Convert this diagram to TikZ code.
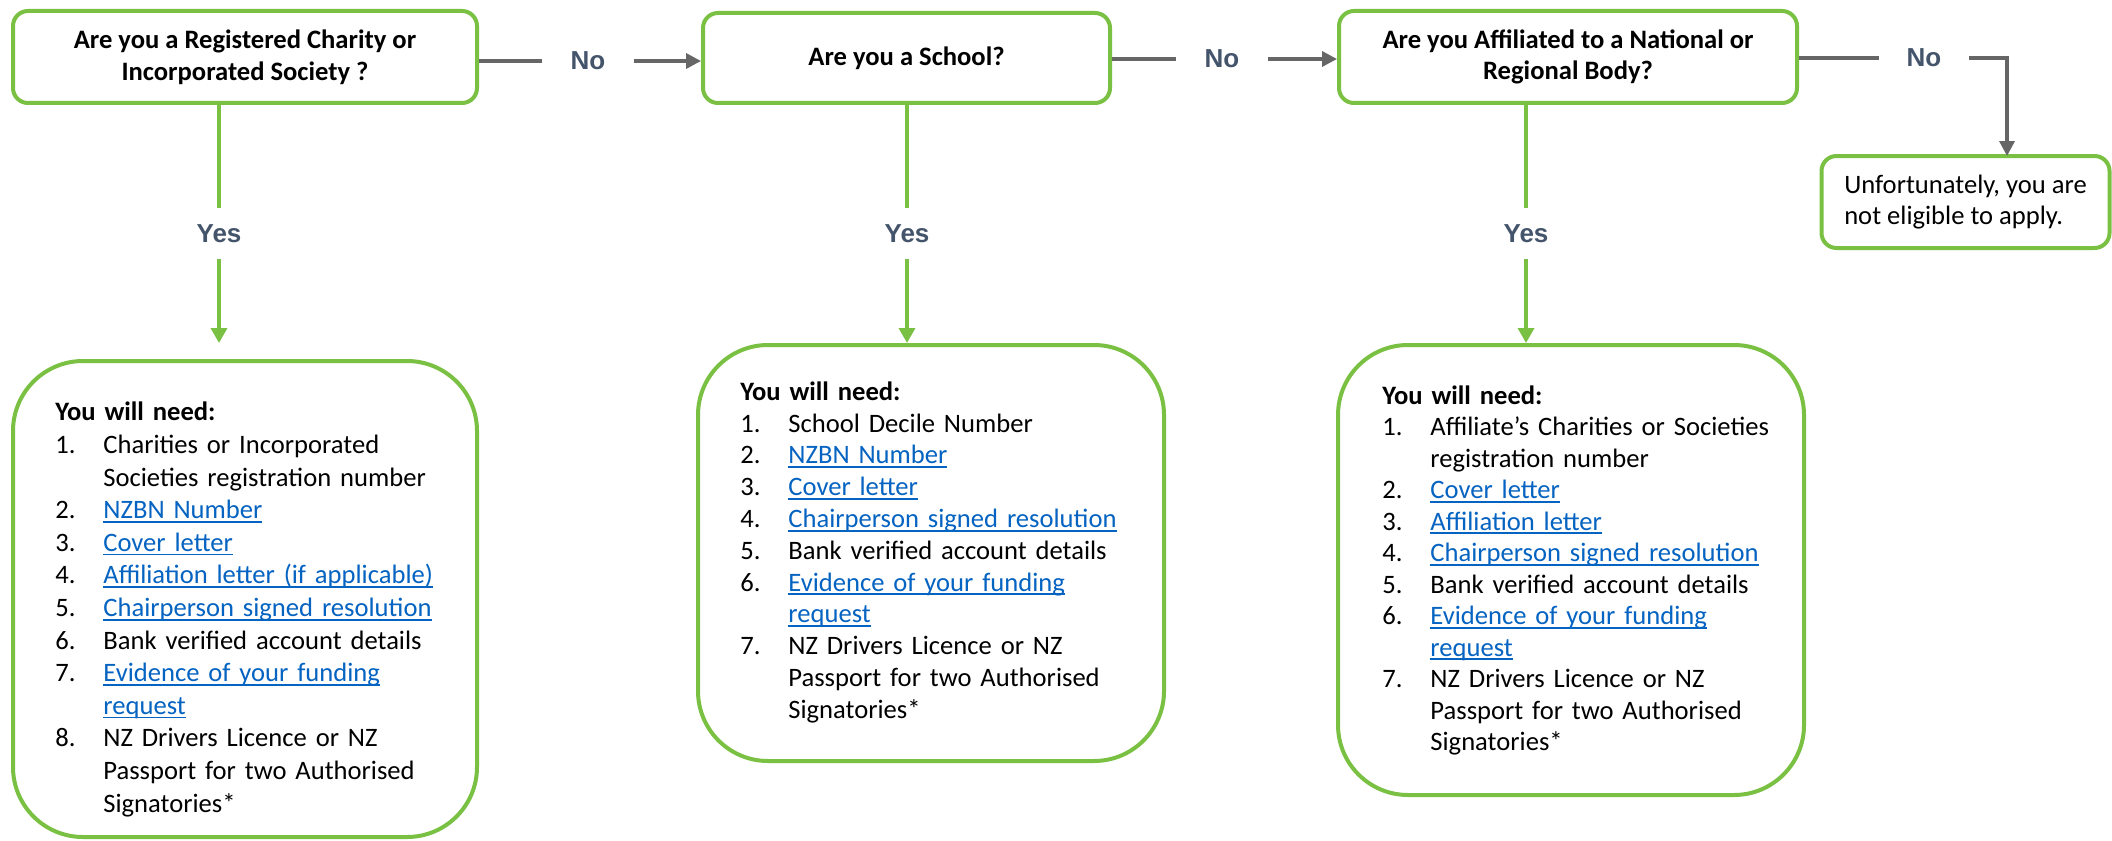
\documentclass[tikz,border=0pt]{standalone}
\usepackage{fontspec}
\setmainfont{Carlito}
\newfontfamily\labfont{Liberation Sans}
\usetikzlibrary{arrows.meta}
\definecolor{boxgreen}{HTML}{7AC143}
\definecolor{conngray}{HTML}{666666}
\definecolor{labelblue}{HTML}{44546A}
\definecolor{linkblue}{HTML}{0563C1}
\newsavebox\lnkbox
\newcommand\itm[2]{\makebox[24pt][l]{#1}#2}
\newcommand\cnt[1]{\hspace*{24pt}#1}
\newcommand\lnk[1]{{\color{linkblue}\sbox\lnkbox{#1}\rlap{\rule[-2pt]{\wd\lnkbox}{0.85pt}}\usebox\lnkbox}}
\begin{document}
\begin{tikzpicture}[x=0.5pt,y=-0.5pt,
  qbox/.style={draw=boxgreen,line width=2pt,rounded corners=7.5pt,fill=white,align=center,inner sep=0pt,font=\fontsize{13.3}{15.9}\selectfont\bfseries},
  listbox/.style={draw=boxgreen,line width=2pt,rounded corners=35pt,inner sep=0pt},
  listtext/.style={anchor=north west,inner sep=0pt,align=left,text width=210pt,font=\fontsize{13.3}{15.9}\selectfont},
  lbl/.style={font=\labfont\bfseries\fontsize{13}{15}\selectfont,text=labelblue,inner sep=0pt},
  nolbl/.style={lbl,minimum width=45.5pt,minimum height=20pt},
  yeslbl/.style={lbl,minimum height=25.5pt,minimum width=30pt},
  gline/.style={draw=conngray,line width=1.7pt},
  garrow/.style={gline,-{Triangle[length=7.5pt,width=7.5pt]}},
  yline/.style={draw=boxgreen,line width=1.7pt},
  yarrow/.style={yline,-{Triangle[length=7.5pt,width=8pt]}},
]
\fill[white] (0,0) rectangle (2112,840);
\useasboundingbox (0,0) rectangle (2112,840);

% question boxes
\node[qbox,minimum width=232pt,minimum height=46pt] (q1) at (245,57) {Are you a Registered Charity or\\Incorporated Society ?};
\node[qbox,minimum width=203.5pt,minimum height=45pt] (q2) at (906.5,58) {Are you a School?};
\node[qbox,minimum width=229pt,minimum height=46pt] (q3) at (1568,57) {Are you Affiliated to a National or\\Regional Body?};
\node[qbox,font=\fontsize{13.3}{15.9}\selectfont,align=left,minimum width=144pt,minimum height=46pt] (end) at (1965.5,202) {Unfortunately, you are\\not eligible to apply.};

% list boxes
\node[listbox,minimum width=232pt,minimum height=238pt] (l1) at (245,599) {};
\node[listbox,minimum width=233pt,minimum height=208pt] (l2) at (931,553) {};
\node[listbox,minimum width=233pt,minimum height=225pt] (l3) at (1571,570) {};

\node[listtext,font=\fontsize{13.3}{16.3}\selectfont] (l1t) at (55,397.7) {\strut\textbf{You will need:}\\
\itm{1.}{Charities or Incorporated}\\
\cnt{Societies registration number}\\
\itm{2.}{\lnk{NZBN Number}}\\
\itm{3.}{\lnk{Cover letter}}\\
\itm{4.}{\lnk{Affiliation letter (if applicable)}}\\
\itm{5.}{\lnk{Chairperson signed resolution}}\\
\itm{6.}{Bank verified account details}\\
\itm{7.}{\lnk{Evidence of your funding}}\\
\cnt{\lnk{request}}\\
\itm{8.}{NZ Drivers Licence or NZ}\\
\cnt{Passport for two Authorised}\\
\cnt{Signatories*}};

\node[listtext] (l2t) at (740,377.7) {\strut\textbf{You will need:}\\
\itm{1.}{School Decile Number}\\
\itm{2.}{\lnk{NZBN Number}}\\
\itm{3.}{\lnk{Cover letter}}\\
\itm{4.}{\lnk{Chairperson signed resolution}}\\
\itm{5.}{Bank verified account details}\\
\itm{6.}{\lnk{Evidence of your funding}}\\
\cnt{\lnk{request}}\\
\itm{7.}{NZ Drivers Licence or NZ}\\
\cnt{Passport for two Authorised}\\
\cnt{Signatories*}};

\node[listtext,font=\fontsize{13.3}{15.75}\selectfont] (l3t) at (1382,381.7) {\strut\textbf{You will need:}\\
\itm{1.}{Affiliate’s Charities or Societies}\\
\cnt{registration number}\\
\itm{2.}{\lnk{Cover letter}}\\
\itm{3.}{\lnk{Affiliation letter}}\\
\itm{4.}{\lnk{Chairperson signed resolution}}\\
\itm{5.}{Bank verified account details}\\
\itm{6.}{\lnk{Evidence of your funding}}\\
\cnt{\lnk{request}}\\
\itm{7.}{NZ Drivers Licence or NZ}\\
\cnt{Passport for two Authorised}\\
\cnt{Signatories*}};

% labels
\node[nolbl] (no1) at (588,61) {No};
\node[nolbl] (no2) at (1222,59) {No};
\node[nolbl,minimum width=45pt] (no3) at (1924,58) {No};
\node[yeslbl] (yes1) at (219,233.5) {Yes};
\node[yeslbl] (yes2) at (907,233.5) {Yes};
\node[yeslbl] (yes3) at (1526,233.5) {Yes};
\coordinate (a1) at (219,343);
\coordinate (e3) at (2007,156);

% connectors
\draw[gline] (no1.west -| q1.east) -- (no1.west);
\draw[garrow] (no1.east) -- (no1.east -| q2.west);
\draw[gline] (no2.west -| q2.east) -- (no2.west);
\draw[garrow] (no2.east) -- (no2.east -| q3.west);
\draw[gline] (no3.west -| q3.east) -- (no3.west);
\draw[garrow] (no3.east) -| (e3);
\draw[yline] (yes1.north |- q1.south) -- (yes1.north);
\draw[yarrow] (yes1.south) -- (a1);
\draw[yline] (yes2.north |- q2.south) -- (yes2.north);
\draw[yarrow] (yes2.south) -- (yes2.south |- l2.north);
\draw[yline] (yes3.north |- q3.south) -- (yes3.north);
\draw[yarrow] (yes3.south) -- (yes3.south |- l3.north);
\end{tikzpicture}
\end{document}
